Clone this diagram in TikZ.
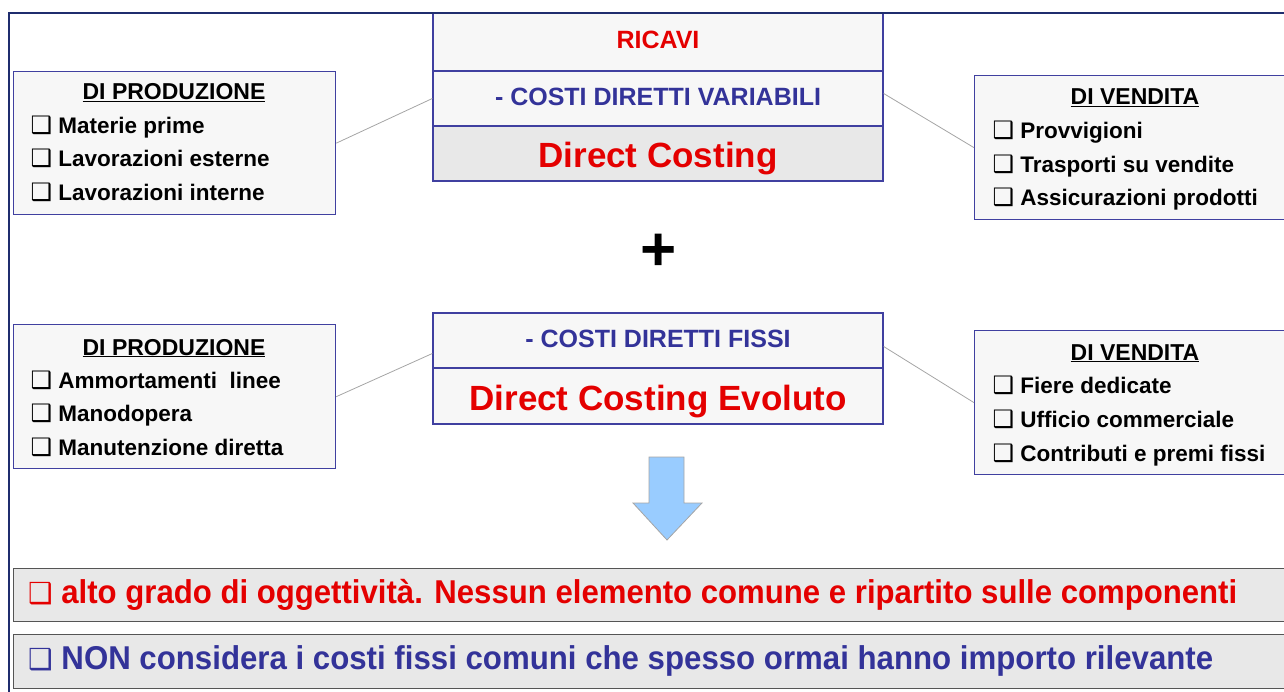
\documentclass[tikz,border=0pt]{standalone}
\usepackage{fontspec}
\setmainfont{Liberation Sans}
\newfontfamily\dingfont{DejaVu Sans}

\definecolor{frameblue}{RGB}{31,45,110}
\definecolor{boxblue}{RGB}{64,64,160}
\definecolor{textred}{RGB}{228,0,0}
\definecolor{textblue}{RGB}{51,51,153}
\definecolor{palegray}{RGB}{247,247,247}
\definecolor{midgray}{RGB}{232,232,232}
\definecolor{bannerline}{RGB}{85,85,85}
\definecolor{linkgray}{RGB}{165,165,165}
\definecolor{arrowblue}{RGB}{153,204,255}

\newcommand{\tick}{{\dingfont\fontsize{24}{24}\selectfont ❑}}

\begin{document}
\begin{tikzpicture}[x=1pt, y=-1pt,
  cell/.style={draw=boxblue, line width=1.3pt, fill=palegray, minimum width=450pt, inner sep=0pt, font=\bfseries},
  capcell/.style={cell, font=\fontsize{25}{30}\selectfont\bfseries, text depth=4pt},
  bigcell/.style={cell, font=\fontsize{35}{40}\selectfont\bfseries, text=textred, text height=28pt, text depth=0pt},
  sidebox/.style={draw=boxblue, line width=1.3pt, fill=palegray, inner sep=0pt, anchor=north west},
  boxtitle/.style={anchor=base, font=\fontsize{23}{26}\selectfont\bfseries},
  item/.style={anchor=base west, font=\fontsize{22.5}{26}\selectfont\bfseries},
  banner/.style={draw=bannerline, line width=1.2pt, fill=midgray, inner sep=0pt, anchor=north west, minimum width=1300pt},
  link/.style={draw=linkgray, line width=0.8pt}]
  \useasboundingbox (0,0) rectangle (1284,692);
  \clip (0,0) rectangle (1284,692);
  % Draw centre boxes
  \node[capcell, minimum height=58pt, text=textred] (ricavi) at (658,42) {RICAVI};
  \node[capcell, minimum height=55pt, text=textblue] (varia) at (658,98.5) {- COSTI DIRETTI VARIABILI};
  \node[bigcell, minimum height=55pt, fill=midgray] (dcost) at (658,153.5) {Direct Costing};
  \node[capcell, minimum height=55pt, text=textblue] (fissi) at (658,340.5) {- COSTI DIRETTI FISSI};
  \node[bigcell, minimum height=56pt] (evol) at (658,396) {Direct Costing Evoluto};
  % Add plus sign
  \node[font=\fontsize{62}{62}\selectfont\bfseries] (plus) at (659,252) {+};
  % Draw side boxes
  \node[sidebox, minimum width=322pt, minimum height=143pt] (prodA) at (13,71) {};
  \node[sidebox, minimum width=330pt, minimum height=144pt] (vendA) at (974,75) {};
  \node[sidebox, minimum width=322pt, minimum height=144pt] (prodB) at (13,324) {};
  \node[sidebox, minimum width=330pt, minimum height=144pt] (vendB) at (974,330) {};
  % Add side box texts
  \node[boxtitle] (prodAtitle) at (174,100) {\underline{DI PRODUZIONE}};
  \node[item] (prodAi) at (27,134) {\tick\ Materie prime};
  \node[item] (prodAii) at (27,167) {\tick\ Lavorazioni esterne};
  \node[item] (prodAiii) at (27,201) {\tick\ Lavorazioni interne};
  \node[boxtitle] (vendAtitle) at (1135,105) {\underline{DI VENDITA}};
  \node[item] (vendAi) at (989,139) {\tick\ Provvigioni};
  \node[item] (vendAii) at (989,173) {\tick\ Trasporti su vendite};
  \node[item] (vendAiii) at (989,206) {\tick\ Assicurazioni prodotti};
  \node[boxtitle] (prodBtitle) at (174,355) {\underline{DI PRODUZIONE}};
  \node[item] (prodBi) at (27,388) {\tick\ Ammortamenti\ \ linee};
  \node[item] (prodBii) at (27,421) {\tick\ Manodopera};
  \node[item] (prodBiii) at (27,455) {\tick\ Manutenzione diretta};
  \node[boxtitle] (vendBtitle) at (1135,360) {\underline{DI VENDITA}};
  \node[item] (vendBi) at (989,393) {\tick\ Fiere dedicate};
  \node[item] (vendBii) at (989,427) {\tick\ Ufficio commerciale};
  \node[item] (vendBiii) at (989,461) {\tick\ Contributi e premi fissi};
  % Draw links
  \draw[link] (prodA.east) -- (varia.west);
  \draw[link] ([yshift=5pt]varia.east) -- (vendA.west);
  \draw[link] (prodB.east) -- ([yshift=-13pt]fissi.west);
  \draw[link] ([yshift=-6pt]fissi.east) -- (vendB.west);
  % Draw down arrow
  \draw[fill=arrowblue, draw=linkgray, line width=0.8pt] (649,457) -- (684,457) -- (684,503) -- (702,503) -- (667,540) -- (633,503) -- (649,503) -- cycle;
  % Draw banners
  \node[banner, minimum height=53pt] (alto) at (13,568) {};
  \node[banner, minimum height=54pt] (non) at (13,634) {};
  \node[anchor=west, text=textred, inner sep=0pt] (altotext) at (28,594.5) {\resizebox{1209pt}{\height}{\fontsize{33}{36}\selectfont\bfseries{\dingfont\fontsize{29}{29}\selectfont ❑}\ alto grado di oggettività. Nessun elemento comune e ripartito sulle componenti}};
  \node[anchor=west, text=textblue, inner sep=0pt] (nontext) at (28,661) {\resizebox{1185pt}{\height}{\fontsize{33}{36}\selectfont\bfseries{\dingfont\fontsize{29}{29}\selectfont ❑}\ NON considera i costi fissi comuni che spesso ormai hanno importo rilevante}};
  % Draw outer frame
  \draw[frameblue, line width=2pt] (9,692) -- (9,13) -- (1284,13);
\end{tikzpicture}
\end{document}
